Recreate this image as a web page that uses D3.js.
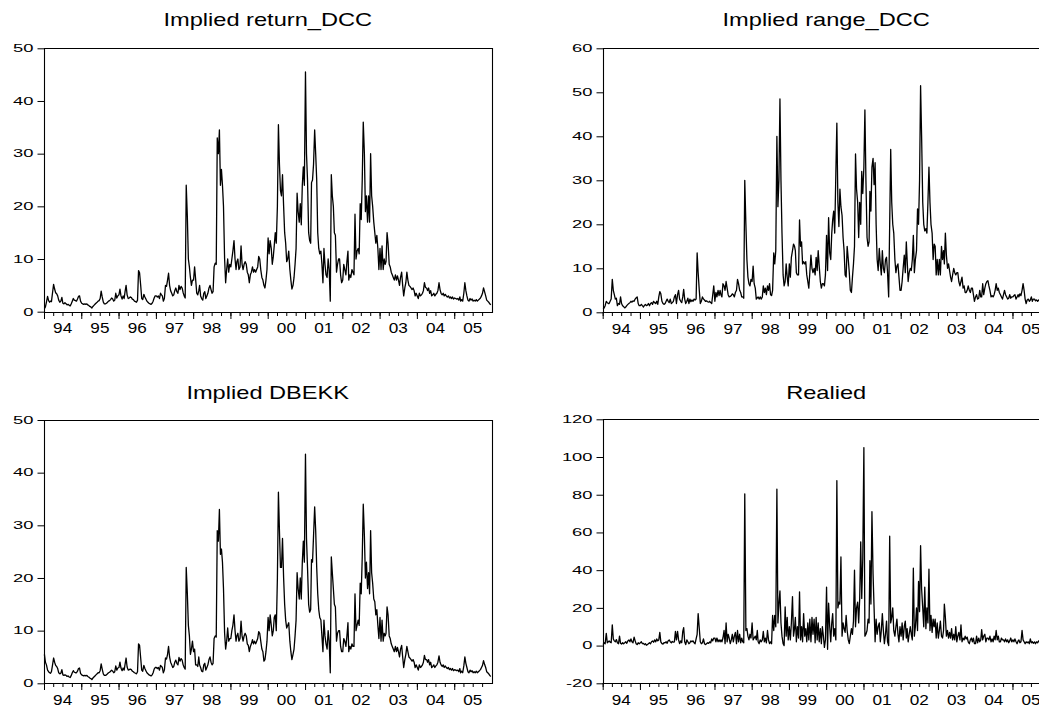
<!DOCTYPE html>
<html><head><meta charset="utf-8">
<script src="https://cdn.jsdelivr.net/npm/d3@7"></script>
<style>body{margin:0;background:#fff;} svg{display:block;}</style>
</head><body>
<svg id="c" width="1039" height="709"></svg>
<script>
// ---------------- data ----------------
const yearLabels = ["94","95","96","97","98","99","00","01","02","03","04","05"];
const titles = ["Implied return_DCC", "Implied range_DCC", "Implied DBEKK", "Realied"];
const obsDays = [5, 15, 25]; // three observations per month, Jan 1994 - Dec 2005
const ticksReturn = [0, 10, 20, 30, 40, 50];
const ticksRange = [0, 10, 20, 30, 40, 50, 60];
const ticksDbekk = [0, 10, 20, 30, 40, 50];
const ticksRealied = [-20, 0, 20, 40, 60, 80, 100, 120];

const returnDCC = [
0.6,0.9,1.8, 2.9,2.1,1.8, 2.0,1.9,3.5, 5.2,4.3,3.6, 3.4,3.0,2.2, 1.8,2.0,2.7, 1.6,1.5,1.7, 1.5,1.3,1.4, 1.2,1.1,1.5, 2.0,2.5,2.2, 2.1,2.0,2.4, 2.9,3.0,2.0,
1.6,1.5,1.4, 1.5,1.4,1.5, 1.3,1.2,1.0, 0.9,0.7,1.0, 1.2,1.4,1.6, 1.8,2.0,2.1, 2.5,3.9,2.8, 1.8,1.5,1.5, 1.6,1.8,2.0, 2.1,2.3,2.6, 2.4,2.0,2.2, 3.5,2.6,3.0,
3.2,4.3,3.0, 2.4,3.0,2.5, 3.8,5.0,3.2, 2.5,2.6,2.8, 2.7,2.4,2.3, 2.0,1.9,1.8, 2.2,7.8,7.4, 5.0,2.5,2.3, 3.3,2.8,2.4, 2.0,1.8,1.6, 1.5,1.4,1.6, 2.0,2.6,3.0,
3.0,2.8,3.0, 2.5,3.5,3.2, 3.0,2.0,2.5, 5.0,4.8,6.0, 7.3,5.0,4.0, 3.5,3.0,3.2, 4.0,4.5,3.8, 3.5,5.0,4.2, 4.8,4.5,3.6, 3.0,2.6,24.0, 18.0,10.0,8.5, 6.5,5.0,6.0,
6.0,8.5,6.2, 3.5,3.2,4.0, 5.0,3.0,2.5, 2.2,3.5,3.8, 2.5,3.0,3.5, 4.5,5.0,4.2, 3.5,3.8,8.5, 9.2,9.0,33.0, 30.0,34.5,24.0, 27.0,24.0,20.0, 10.0,5.5,8.0, 10.0,7.5,9.0,
8.5,10.0,11.5, 13.5,10.0,8.0, 9.5,10.0,8.0, 8.5,12.5,9.0, 8.0,9.0,9.5, 9.0,7.5,7.0, 5.5,7.0,7.5, 8.5,7.5,8.0, 7.5,8.0,8.5, 10.5,10.0,8.0, 6.5,6.0,5.0, 4.5,6.0,8.0,
14.0,11.0,13.5, 12.0,9.0,10.5, 12.5,15.0,13.0, 20.0,35.5,28.0, 23.0,22.0,26.0, 20.0,15.0,13.0, 9.5,10.0,11.5, 8.0,6.0,4.3, 5.0,6.5,9.0, 12.0,22.5,19.0, 17.0,20.5,16.5, 24.0,27.5,24.0,
45.5,30.0,25.0, 15.0,13.5,13.0, 24.5,25.0,28.0, 34.5,30.0,25.0, 15.0,12.0,11.0, 11.5,9.0,5.5, 12.0,9.0,7.0, 6.5,10.0,8.0, 2.0,26.0,22.0, 20.0,15.0,14.5, 7.5,9.0,10.0, 10.0,7.0,5.5,
6.0,9.0,8.0, 7.0,9.5,11.5, 6.0,7.0,6.5, 8.0,7.5,7.0, 18.5,10.0,11.5, 12.0,11.0,20.5, 17.5,25.0,36.0, 30.0,19.0,22.0, 17.0,22.0,17.0, 30.0,22.0,20.0, 17.0,15.0,13.0, 14.5,12.0,8.0,
12.0,8.0,12.5, 8.0,10.0,9.0, 9.5,15.0,13.0, 9.0,8.5,7.5, 7.0,6.5,6.0, 7.0,6.0,6.8, 6.0,5.0,6.5, 7.5,5.0,3.0, 4.5,5.5,7.5, 6.0,5.0,4.8, 4.5,4.2,4.5, 4.0,3.0,3.5,
3.0,2.5,3.5, 3.0,3.2,3.5, 4.0,5.5,4.6, 4.5,4.0,4.5, 3.5,4.0,3.0, 3.2,3.5,3.0, 3.3,3.5,4.0, 5.5,4.2,3.5, 3.2,3.5,3.0, 3.3,3.0,2.8, 3.0,2.6,2.8, 2.5,2.8,2.4,
2.6,2.5,2.4, 2.5,2.2,2.8, 2.0,2.3,2.0, 3.5,5.5,4.0, 3.0,2.2,2.0, 2.5,2.2,2.4, 2.0,2.2,2.0, 2.3,2.0,2.2, 2.4,2.6,3.0, 3.5,4.5,3.8, 3.0,2.2,2.0, 1.8,1.5,1.3
];

const rangeDCC = [
0.8,1.0,1.5, 2.5,2.2,2.0, 2.0,2.5,3.0, 7.5,5.0,4.0, 3.0,3.2,1.5, 2.0,1.8,3.5, 2.0,1.5,1.3, 1.0,1.2,1.5, 1.8,2.0,2.2, 2.5,2.3,2.6, 2.5,3.0,3.3, 3.5,2.0,1.5,
1.5,1.8,1.5, 1.2,1.6,1.8, 1.5,1.6,2.0, 1.5,2.0,2.2, 1.8,2.5,2.2, 2.0,2.5,1.8, 3.5,4.7,4.2, 2.5,2.0,1.8, 2.0,2.5,3.0, 2.5,2.2,3.0, 2.0,2.2,2.5, 3.5,4.0,2.0,
4.0,5.0,3.0, 2.5,2.2,3.5, 5.2,3.0,2.0, 2.5,3.2,2.0, 3.0,2.4,2.8, 2.5,3.0,2.8, 3.0,13.5,9.0, 5.0,2.0,2.5, 3.5,3.0,2.8, 2.5,2.6,2.4, 2.3,2.5,2.2, 2.0,4.0,6.0,
2.5,4.5,3.5, 5.0,3.8,5.0, 4.0,3.5,6.5, 6.0,5.0,7.0, 5.5,4.0,3.5, 3.6,3.8,4.2, 4.0,3.5,4.5, 5.0,7.5,6.5, 5.0,4.5,3.5, 3.5,3.2,30.0, 20.0,12.0,8.0, 6.5,6.0,7.5,
7.0,10.5,6.5, 5.5,3.0,3.3, 3.5,3.0,3.5, 3.0,3.5,6.0, 4.5,5.5,4.0, 6.0,5.0,6.5, 4.0,3.8,5.0, 13.5,11.0,14.0, 40.0,24.0,30.0, 48.5,30.0,18.0, 8.5,6.0,7.0, 11.0,8.0,6.0,
11.0,8.0,12.5, 14.0,15.5,15.0, 14.0,9.0,8.5, 8.5,21.0,15.0, 16.0,11.0,11.5, 11.0,11.5,8.5, 7.0,5.5,9.0, 13.0,10.0,9.0, 10.0,8.5,12.5, 9.5,14.0,10.5, 7.0,5.5,6.5, 6.5,6.0,8.5,
17.5,9.5,21.5, 13.5,12.0,18.0, 21.0,23.0,18.0, 31.5,43.0,25.0, 19.5,28.0,24.0, 22.0,17.0,14.0, 8.5,8.0,15.0, 12.0,9.0,5.0, 4.5,8.0,11.0, 15.0,36.0,28.0, 25.0,17.0,25.0, 20.0,32.0,27.0,
33.0,46.0,30.0, 17.0,15.0,16.0, 27.5,23.0,33.0, 35.0,29.0,34.0, 20.0,12.0,9.5, 14.5,11.0,8.5, 14.0,10.0,9.0, 12.0,12.5,9.0, 3.5,20.0,37.0, 25.0,20.0,18.0, 12.0,9.0,10.5, 11.0,8.0,5.0,
5.0,7.0,10.0, 13.0,9.0,16.0, 12.0,7.0,9.0, 10.0,9.5,12.0, 17.5,9.0,12.0, 14.0,23.5,20.0, 30.0,51.5,40.0, 25.0,20.0,18.5, 19.0,18.0,25.0, 33.0,25.0,20.0, 18.0,12.0,15.5, 15.0,8.5,12.0,
8.5,12.0,8.5, 15.0,12.0,14.0, 11.0,18.0,13.0, 10.0,11.0,9.5, 8.0,7.0,8.5, 10.0,9.0,8.5, 9.0,9.0,7.0, 6.0,7.0,8.0, 5.5,6.0,4.5, 4.5,5.0,6.0, 5.0,4.5,5.5, 5.5,4.0,2.5,
3.5,4.0,3.0, 3.2,5.0,3.5, 3.5,6.5,4.0, 5.5,6.5,7.0, 7.2,6.0,5.0, 3.5,3.8,3.5, 4.0,5.0,6.5, 5.0,5.5,4.5, 4.0,3.5,3.0, 4.0,5.0,4.0, 3.5,3.0,3.2, 4.0,3.2,3.5,
3.5,3.8,4.0, 3.0,3.5,4.0, 3.5,4.2,3.8, 5.0,6.5,5.0, 3.0,2.0,2.8, 3.0,2.5,2.8, 3.5,2.5,3.0, 3.0,2.6,2.8, 2.5,2.8,2.6, 2.8,3.0,2.7, 2.5,2.8,2.6, 2.4,2.7,2.5
];

const dbekk = [
5.5,4.0,3.5, 2.5,2.2,2.0, 1.9,2.2,3.4, 4.8,4.0,3.4, 3.2,2.8,2.0, 1.8,1.9,2.6, 1.6,1.5,1.6, 1.5,1.3,1.4, 1.2,1.1,1.5, 2.0,2.4,2.1, 2.0,2.0,2.3, 2.8,2.9,1.9,
1.6,1.5,1.4, 1.5,1.4,1.5, 1.3,1.2,1.0, 0.9,0.7,1.0, 1.2,1.4,1.6, 1.8,2.0,2.0, 2.4,3.7,2.7, 1.8,1.5,1.5, 1.6,1.8,2.0, 2.1,2.3,2.5, 2.3,2.0,2.2, 3.3,2.5,2.9,
3.0,4.0,2.9, 2.4,2.9,2.5, 3.6,4.8,3.1, 2.5,2.6,2.7, 2.6,2.3,2.2, 2.0,1.9,1.8, 2.2,7.5,7.2, 4.8,2.5,2.3, 3.4,2.8,2.4, 2.0,1.8,1.6, 1.5,1.4,1.6, 2.0,2.7,3.0,
3.0,2.8,3.0, 2.5,3.4,3.2, 3.0,2.0,2.5, 4.8,4.6,5.5, 7.0,5.0,4.0, 3.5,3.0,3.2, 4.0,4.4,3.8, 3.5,4.9,4.2, 4.7,4.4,3.5, 3.0,2.7,22.0, 17.0,11.0,9.0, 5.5,6.5,8.0,
6.0,6.5,3.5, 3.5,3.2,5.0, 3.5,3.0,2.3, 2.2,3.5,3.8, 2.5,3.0,3.5, 4.5,5.0,4.0, 3.5,3.8,8.5, 9.0,8.8,29.0, 27.0,33.0,24.5, 25.5,23.0,18.0, 9.5,6.5,8.0, 10.5,8.0,8.5,
8.5,10.0,11.0, 13.0,10.0,8.0, 9.0,9.5,8.0, 8.5,11.8,9.0, 8.0,9.0,9.5, 9.0,7.5,7.2, 6.0,7.0,7.5, 8.3,7.5,8.0, 7.5,8.0,8.5, 9.8,9.5,8.0, 6.5,6.0,4.2, 4.5,6.0,8.0,
12.5,10.0,13.0, 11.0,9.0,10.0, 12.5,13.0,10.0, 20.0,36.3,29.0, 22.0,22.0,27.5, 20.0,15.0,12.0, 10.5,11.0,11.5, 8.0,6.0,4.5, 5.5,6.5,9.0, 12.0,21.0,18.0, 16.0,20.0,16.0, 23.0,27.0,23.0,
43.5,27.5,22.0, 15.0,13.5,14.0, 23.5,23.0,28.0, 33.5,29.0,22.0, 17.0,14.0,12.5, 12.0,9.0,6.0, 12.0,9.0,7.5, 6.5,10.0,8.0, 2.0,24.0,21.0, 18.0,15.0,14.5, 8.0,9.5,10.0, 10.0,7.0,6.0,
6.0,8.5,8.0, 7.0,9.0,11.5, 6.0,7.0,6.5, 7.5,7.0,7.0, 17.0,10.0,11.0, 12.0,11.0,19.0, 17.0,24.0,34.0, 28.0,20.0,23.0, 18.0,21.0,17.0, 29.0,21.0,19.0, 16.0,15.5,13.0, 14.0,11.0,8.5,
12.5,8.0,12.0, 8.0,9.5,9.0, 9.5,14.5,13.0, 9.0,8.5,7.5, 7.0,6.5,6.0, 7.0,6.0,6.8, 6.0,5.0,6.5, 7.2,5.0,3.0, 4.5,5.5,7.0, 6.0,5.0,4.8, 4.5,4.2,4.5, 4.0,3.0,3.5,
3.0,2.5,3.5, 3.0,3.2,3.5, 4.0,5.3,4.5, 4.5,4.0,4.5, 3.5,4.0,3.0, 3.2,3.5,3.0, 3.3,3.5,4.0, 5.2,4.0,3.5, 3.2,3.5,3.0, 3.3,3.0,2.8, 3.0,2.6,2.8, 2.5,2.8,2.4,
2.6,2.5,2.4, 2.5,2.2,2.8, 2.0,2.3,2.0, 3.3,5.0,3.8, 3.0,2.2,2.0, 2.5,2.2,2.4, 2.0,2.2,2.0, 2.3,2.0,2.2, 2.4,2.6,3.0, 3.4,4.3,3.6, 3.0,2.2,2.0, 1.8,1.5,1.3
];

const realied = [
0.5,1.5,1.0, 6.5,1.5,2.0, 2.5,1.8,1.5, 11.0,3.5,2.5, 2.0,3.2,1.5, 1.0,5.0,1.2, 0.8,1.5,1.0, 1.5,2.0,1.2, 2.5,3.0,2.0, 3.5,2.0,1.5, 4.5,2.5,1.0, 0.5,1.5,1.0,
1.5,2.0,1.0, 1.2,0.5,1.0, 0.2,0.5,1.0, 1.5,1.0,2.0, 2.5,1.8,3.0, 2.0,3.5,2.5, 3.0,7.0,2.0, 1.0,0.8,1.5, 1.5,2.0,1.2, 2.5,3.0,2.0, 1.5,2.2,1.8, 2.0,7.5,3.0,
7.5,3.0,1.0, 2.5,1.5,7.5, 9.5,2.0,0.5, 3.0,2.0,1.0, 1.5,2.5,2.0, 2.5,1.5,1.0, 3.5,6.0,17.0, 9.0,2.0,1.0, 1.5,3.5,1.0, 0.5,1.0,1.5, 1.2,2.0,1.5, 3.5,2.5,4.0,
4.0,2.0,4.0, 2.0,3.0,2.0, 3.0,2.0,4.0, 8.0,1.0,12.0, 2.0,6.0,4.0, 1.0,3.0,6.0, 2.0,5.0,7.0, 1.0,8.0,2.0, 6.0,1.5,4.0, 2.0,1.5,80.5, 8.0,9.0,5.0, 3.0,6.0,4.0,
12.0,3.0,4.0, 5.0,3.0,8.0, 2.0,1.0,3.0, 2.0,3.0,7.5, 2.0,4.0,1.5, 8.0,3.0,1.0, 2.0,1.0,16.0, 8.0,16.0,10.0, 83.0,12.0,22.0, 29.0,12.0,5.0, 1.0,0.0,20.5, 5.0,15.0,3.0,
10.0,3.0,12.0, 26.0,5.0,9.0, 15.0,2.0,10.0, 4.0,28.5,3.0, 10.0,2.0,17.0, 5.0,9.0,2.0, 12.0,3.0,14.0, 2.0,15.0,6.0, 14.0,1.5,15.0, 3.0,12.0,2.0, 9.0,1.0,10.0, 5.0,-1.0,3.0,
31.0,-2.0,22.5, 10.0,2.0,12.0, 17.0,5.0,9.0, 3.0,87.5,20.0, 23.0,22.0,47.0, 5.0,12.0,9.0, 7.0,16.0,8.0, 3.0,1.0,5.0, 9.0,6.0,13.0, 40.0,10.0,20.0, 23.0,12.0,25.0, 55.0,25.0,46.0,
105.0,5.0,6.0, 8.0,14.0,12.0, 45.0,22.0,71.0, 38.0,20.0,2.0, 14.0,6.0,10.0, 12.0,2.0,8.0, 17.0,8.0,1.0, 6.0,13.0,2.0, 0.0,58.0,12.0, 15.0,20.0,8.0, 5.0,10.0,14.0, 6.0,2.0,10.0,
5.0,12.0,3.0, 10.0,13.0,4.0, 9.0,2.0,6.0, 10.0,6.0,3.0, 41.0,5.0,10.0, 20.0,8.0,34.0, 18.0,53.0,30.0, 20.0,10.0,31.0, 9.0,20.0,12.0, 40.5,8.0,16.0, 7.0,14.0,10.0, 14.0,4.0,12.0,
4.0,8.0,13.0, 5.0,4.0,8.0, 22.0,15.0,5.0, 8.0,4.0,7.0, 4.0,9.0,3.0, 6.0,3.0,10.0, 2.0,5.0,7.0, 3.0,11.0,2.0, 4.0,3.0,5.0, 3.5,4.5,2.0, 1.0,3.0,4.0, 2.0,4.0,1.0,
1.0,5.0,1.5, 4.0,2.0,3.0, 8.5,3.0,5.0, 6.0,2.0,4.0, 4.0,3.0,5.0, 2.0,3.5,2.0, 5.0,3.0,8.0, 3.0,5.0,2.0, 2.0,4.0,3.0, 3.0,2.0,3.5, 2.0,3.0,1.5, 2.5,4.0,2.0,
3.0,2.0,3.5, 2.0,1.0,2.5, 3.0,1.5,2.0, 8.0,3.0,2.0, 1.0,2.0,1.5, 2.0,1.0,3.5, 1.5,2.0,1.2, 2.0,1.0,2.0, 1.5,2.5,2.0, 2.0,1.5,2.5, 1.8,2.2,1.5, 2.0,1.6,2.2
];

// ---------------- drawing ----------------
const FONT = "'Liberation Sans', Arial, Helvetica, sans-serif";
const dates = [];
yearLabels.forEach((_, yi) => { for (let m = 0; m < 12; m++) obsDays.forEach(d => dates.push(new Date(1994 + yi, m, d))); });
const tStart = new Date(1994, 0, 1), tEnd = new Date(1994 + yearLabels.length, 0, 1);

const panels = [
  {title: titles[0], values: returnDCC, domain: [0, 50],  ticks: ticksReturn,  x0: 44,    x1: 491.5,  yT: 48.3,  yB: 311.7, tY: 26},
  {title: titles[1], values: rangeDCC,  domain: [0, 60],  ticks: ticksRange,   x0: 602.7, x1: 1049.7, yT: 48.3,  yB: 312.3, tY: 26},
  {title: titles[2], values: dbekk,     domain: [0, 50],  ticks: ticksDbekk,   x0: 44,    x1: 491.5,  yT: 420,   yB: 683.3, tY: 398.5},
  {title: titles[3], values: realied,   domain: [-20, 120], ticks: ticksRealied, x0: 602.7, x1: 1049.7, yT: 419.3, yB: 683.3, tY: 398.5}
];

const svg = d3.select("#c");
svg.append("rect").attr("width", 1039).attr("height", 709).attr("fill", "#fff");

panels.forEach(p => {
  const g = svg.append("g");
  const xs = d3.scaleTime().domain([tStart, tEnd]).range([p.x0, p.x1]);
  const ys = d3.scaleLinear().domain(p.domain).range([p.yB, p.yT]);
  const L = Math.round(p.x0) + 0.5, R = Math.round(p.x1) + 0.5, T = Math.round(p.yT) + 0.5, B = Math.round(p.yB) + 0.5;

  // series line
  const line = d3.line().x((d, i) => xs(dates[i])).y(d => ys(d));
  g.append("path").datum(p.values).attr("d", line)
    .attr("fill", "none").attr("stroke", "#000").attr("stroke-width", 1.3).attr("stroke-linejoin", "round");

  // frame
  g.append("path").attr("d", `M${L},${T}H${R}V${B}H${L}Z`).attr("fill", "none").attr("stroke", "#000").attr("stroke-width", 1.1);

  // y ticks
  g.append("g").attr("transform", `translate(${L},0)`)
    .call(d3.axisLeft(ys).tickValues(p.ticks).tickSize(7).tickFormat(""))
    .call(a => a.select(".domain").remove())
    .call(a => a.selectAll("line").attr("stroke", "#000"));
  g.selectAll(".ylab").data(p.ticks).join("text").attr("class", "ylab")
    .attr("transform", d => `translate(${L - 11},${ys(d) + 3.8}) scale(1.7,1)`)
    .attr("text-anchor", "end").attr("font-family", FONT).attr("font-size", 10.8).attr("fill", "#000")
    .text(d => d);

  // x ticks: quarters (minor) and years (major)
  const quarters = d3.timeMonth.every(3).range(tStart, tEnd);
  const years = d3.timeYear.range(tStart, tEnd);
  g.append("g").attr("transform", `translate(0,${B - 0.5})`)
    .call(d3.axisBottom(xs).tickValues(quarters).tickSize(4).tickFormat(""))
    .call(a => a.select(".domain").remove())
    .call(a => a.selectAll("line").attr("stroke", "#000"));
  g.append("g").attr("transform", `translate(0,${B - 0.5})`)
    .call(d3.axisBottom(xs).tickValues(years).tickSize(7).tickFormat(""))
    .call(a => a.select(".domain").remove())
    .call(a => a.selectAll("line").attr("stroke", "#000"));
  g.selectAll(".xlab").data(yearLabels).join("text").attr("class", "xlab")
    .attr("transform", (d, i) => `translate(${(xs(new Date(1994 + i, 0, 1)) + xs(new Date(1995 + i, 0, 1))) / 2},${p.yB + 21.5}) scale(1.2,1)`)
    .attr("text-anchor", "middle").attr("font-family", FONT).attr("font-size", 14.3).attr("fill", "#000")
    .text(d => d);

  // title
  svg.append("text")
    .attr("transform", `translate(${(p.x0 + p.x1) / 2},${p.tY}) scale(1.27,1)`)
    .attr("text-anchor", "middle").attr("font-family", FONT).attr("font-size", 18.6).attr("fill", "#000")
    .text(p.title);
});
</script>
</body></html>
